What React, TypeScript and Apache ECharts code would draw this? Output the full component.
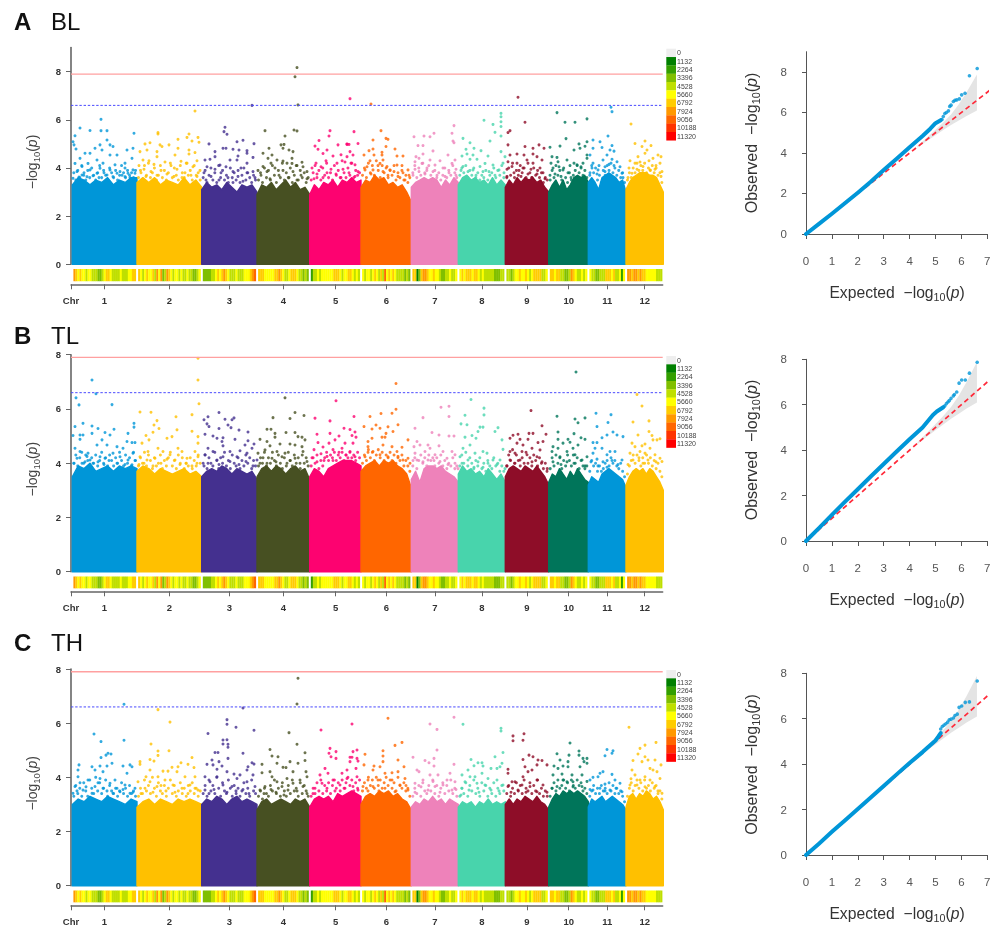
import React, { useEffect, useRef } from "react";
import * as echarts from "echarts";

const FONT = "'Liberation Sans', Arial, sans-serif";

const chrNames = ["1","2","3","4","5","6","7","8","9","10","11","12"];
const chrColors = ["#0096D8","#FFC000","#44308F","#475022","#FD0270","#FF6600","#EE82BA","#48D4AC","#8E0D28","#00755A","#0096D8","#FFC000"];
const chrBounds = [1.3,66,130.7,186,238.7,290,340.3,387.3,434.3,477.7,517.3,555,592.3];
const chrTicks = [33.3,98.3,158.3,212.3,264.7,315.3,364,411,456,497.7,536.3,573.7];

const legendLabels = ["0","1132","2264","3396","4528","5660","6792","7924","9056","10188","11320"];
const legendColors = ["#EEEEEE","#008000","#339F00","#80BF00","#BFDF00","#FFFF00","#FFCC00","#FF9900","#FF6600","#FF3300","#FF0000"];

const stripLevels = [
  [7,6,5,6,5,5,4,5,5,4,4,4,3,3,4,5,6,6,5,4,4,4,4,5,4,4,4,5,5,6,6],
  [6,5,4,5,6,5,5,6,4,7,5,7,3,4,7,6,5,4,5,5,4,5,4,4,5,4,4,3,3,4,5],
  [3,3,3,3,4,4,5,6,5,6,7,6,5,4,4,4,5,4,4,4,5,5,5,6,7,8],
  [6,6,6,5,5,5,5,5,6,6,7,6,5,4,4,5,6,6,6,5,4,4,3,4,3],
  [2,4,4,5,4,5,5,5,5,5,5,6,6,6,5,4,5,5,6,6,5,4,5,4],
  [5,4,5,5,4,5,6,5,4,6,4,8,5,6,5,6,5,4,4,4,4,3,4,3],
  [6,6,1,3,6,7,7,6,5,5,6,5,5,4,3,3,4,4,5,4,4,5],
  [5,6,5,6,6,6,5,6,6,5,4,5,4,4,4,4,4,3,3,3,4,4],
  [4,4,3,4,5,5,6,5,5,6,5,4,5,6,6,6,6,4,4,5],
  [6,6,5,6,6,4,4,3,3,4,7,6,5,4,4,5,4,5],
  [5,4,4,3,3,4,4,4,6,6,6,5,6,4,4,5,2,5],
  [7,7,6,7,7,6,7,6,6,5,5,5,5,5,4,4,4],
];

const massBL = [
  [3.3,3.6,3.5,3.3,3.5,3.4,3.6,3.3,3.5,3.4,3.6,3.6],
  [3.4,3.6,3.4,3.6,3.3,3.5,3.4,3.3,3.6,3.3,3.5,3.2],
  [3.1,3.4,3.2,3.3,3.1,3.4,3.2,3.0,3.3,3.2,3.3,3.0],
  [2.9,3.3,3.2,3.4,3.1,3.3,3.5,3.2,3.4,3.1,3.2,2.9],
  [2.9,3.3,3.1,3.4,3.3,3.5,3.2,3.5,3.4,3.6,3.4,3.5],
  [3.2,3.5,3.4,3.7,3.5,3.6,3.3,3.4,3.2,3.3,3.0,2.6],
  [3.2,3.4,3.5,3.6,3.5,3.6,3.5,3.2,3.5,3.3,3.6,3.4],
  [3.3,3.6,3.7,3.5,3.6,3.4,3.5,3.3,3.6,3.3,3.5,3.3],
  [3.2,3.5,3.3,3.6,3.4,3.6,3.5,3.6,3.4,3.5,3.2,3.0],
  [3.0,3.3,3.5,3.2,3.5,3.1,3.3,3.6,3.7,3.6,3.7,3.4],
  [3.4,3.6,3.4,3.1,3.6,3.7,3.8,3.7,3.6,3.4,3.5,3.0],
  [3.1,3.4,3.6,3.7,3.8,3.8,3.8,3.7,3.7,3.6,3.3,3.0],
];
const massTL = [
  [3.5,3.9,3.8,4.0,3.7,3.8,3.9,3.7,3.9,3.8,3.9,3.8],
  [3.7,3.9,3.8,3.6,3.8,3.7,3.6,3.7,3.8,3.6,3.7,3.5],
  [3.5,3.7,3.8,3.7,3.9,3.8,3.6,3.8,3.7,3.6,3.7,3.4],
  [3.5,3.8,3.9,3.7,3.9,3.8,3.6,3.8,3.9,3.7,3.8,3.4],
  [3.5,3.8,3.7,3.5,3.8,3.9,4.0,4.1,4.1,4.1,4.0,3.9],
  [3.7,3.9,4.0,4.1,3.9,4.1,4.0,4.1,3.9,3.8,3.6,3.1],
  [3.4,3.7,3.3,3.8,3.9,3.9,3.8,3.9,3.7,3.6,3.5,3.3],
  [3.6,3.9,3.7,3.8,3.6,3.7,3.5,3.8,3.6,3.4,3.6,3.3],
  [3.5,3.8,3.9,3.8,3.7,3.9,3.8,3.7,3.9,3.7,3.5,3.2],
  [3.3,3.6,3.5,3.8,3.6,3.4,3.7,3.5,3.8,3.6,3.4,3.3],
  [3.2,3.5,3.4,3.3,3.6,3.7,3.8,3.7,3.6,3.5,3.4,3.1],
  [3.2,3.5,3.7,3.8,3.7,3.8,3.6,3.8,3.7,3.5,3.3,3.0],
];
const massTH = [
  [3.0,3.2,3.1,3.3,3.2,3.1,3.3,3.2,3.1,3.0,3.2,3.1],
  [2.9,3.1,3.2,3.0,3.2,3.1,3.0,3.2,3.1,3.2,3.1,3.0],
  [3.0,3.2,3.1,3.3,3.2,3.0,3.2,3.3,3.1,3.2,3.1,3.0],
  [2.8,3.1,3.2,3.0,3.1,3.2,3.1,3.0,3.2,3.1,3.2,2.9],
  [2.9,3.2,3.3,3.2,3.3,3.1,3.4,3.3,3.4,3.5,3.4,3.3],
  [3.0,3.3,3.4,3.3,3.5,3.4,3.5,3.3,3.4,3.2,3.1,2.8],
  [2.9,3.1,3.0,3.2,3.1,3.3,3.1,3.2,3.0,3.2,3.1,3.0],
  [2.9,3.1,3.0,3.1,2.9,3.1,3.0,3.2,3.0,3.1,3.0,3.1],
  [3.0,3.2,3.0,3.2,3.1,3.3,3.2,3.1,3.3,3.1,3.0,2.8],
  [2.9,3.2,3.4,3.3,3.5,3.4,3.5,3.4,3.5,3.4,3.3,3.1],
  [2.9,3.2,3.1,3.2,3.3,3.1,3.2,3.3,3.2,3.1,3.0,2.8],
  [2.9,3.3,3.4,3.2,3.4,3.3,3.5,3.4,3.2,3.3,3.1,2.8],
];

// heights of the crowded band of points just above the solid mass, read left to right along each chromosome
const bandBL = [
  [3.8,3.5,3.9,3.6,4.1,3.7,3.5,3.9,3.6,4.0,3.7,3.5,3.8,4.1,3.6,3.9,3.7,3.5,4.0,3.8,3.6,3.9,3.5,3.7,4.1,3.8,3.6,3.9,3.7,3.8,3.6,3.9],
  [3.6,3.9,3.5,4.1,3.7,4.2,3.6,3.8,4.0,3.5,3.7,4.1,3.6,3.9,3.5,3.8,4.2,3.6,4.0,3.7,3.5,4.1,3.8,3.6,4.2,3.7,3.9,3.5,4.1,3.7,3.8,3.5],
  [3.6,3.9,3.4,3.7,4.0,3.5,3.8,3.4,4.1,3.6,3.9,3.5,3.7,3.4,4.0,3.6,3.8,3.5,3.9,3.4,3.7,4.0,3.5,3.8,3.6,3.4,3.7,3.5],
  [3.5,3.8,3.4,4.0,3.6,3.9,3.5,4.1,3.7,3.4,3.9,3.6,4.2,3.5,3.8,3.6,4.0,3.4,3.7,4.1,3.5,3.9,3.6,3.8,3.4,3.6],
  [3.5,3.8,4.1,3.6,3.9,3.5,4.0,3.7,4.2,3.6,3.8,3.5,4.1,3.7,3.9,3.6,4.3,3.8,3.6,4.0,3.7,4.2,3.6,3.9,3.7,3.8],
  [3.7,4.0,3.6,4.2,3.8,4.1,3.7,4.3,3.9,3.6,4.1,3.8,4.0,3.6,3.9,3.7,4.1,3.5,3.8,3.6,3.9,3.5,3.7,3.4,3.6],
  [3.8,4.1,3.6,4.0,3.7,4.2,3.8,3.9,4.1,3.7,3.5,3.9,3.6,3.8,3.5,3.7,4.0,3.6,3.9,3.7,4.1,3.8,3.6],
  [3.7,4.0,3.8,4.1,3.6,3.9,3.7,4.0,3.6,3.8,3.5,3.7,3.6,3.9,3.5,3.7,3.8,4.0,3.6,3.9,3.7,4.1,3.6],
  [3.6,4.0,3.7,4.2,3.6,3.9,3.7,4.1,3.8,4.0,3.6,4.2,3.8,3.6,4.0,3.7,3.9,3.6,3.8,3.4,3.6,3.5],
  [3.5,3.9,3.6,4.1,3.7,3.9,3.5,4.0,3.6,3.4,3.8,3.5,3.7,3.9,4.1,3.8,4.0,3.7,3.9,3.6],
  [3.7,4.1,3.8,4.0,3.5,3.7,3.4,3.9,3.7,4.1,3.9,4.2,3.8,4.0,3.7,3.9,3.6,3.8,3.4],
  [3.5,3.8,3.6,4.0,3.8,4.2,3.9,4.1,3.9,4.2,3.8,4.0,3.9,4.1,3.8,4.0,3.7,3.8,3.4],
];
const bandTL = [
  [4.0,4.3,3.9,4.2,4.4,4.0,4.3,4.1,3.9,4.2,4.0,4.3,3.9,4.1,4.4,4.0,4.2,3.9,4.3,4.1,3.9,4.2,4.0,4.4,4.1,3.9,4.3,4.0,4.2,3.9,4.4,4.1],
  [3.9,4.2,4.0,4.4,3.9,4.3,4.1,3.8,4.2,3.9,4.0,4.3,3.8,4.1,3.9,4.2,4.4,3.9,4.1,3.8,4.3,4.0,4.2,3.8,4.0,3.9,4.2,3.8,4.1,3.9,4.3,4.0],
  [4.0,4.3,3.8,4.2,4.0,3.9,4.4,4.1,3.8,4.2,4.0,4.4,3.9,4.1,3.8,4.3,4.0,3.9,4.2,3.8,4.1,3.9,4.3,4.0,4.2,3.8,4.1,3.9],
  [3.9,4.2,4.0,4.4,3.9,4.2,4.0,4.4,4.1,3.9,4.3,4.0,3.8,4.2,3.9,4.4,4.1,3.9,4.3,4.0,4.2,3.8,4.3,4.0,4.2,3.9],
  [3.9,4.2,4.0,4.3,3.8,4.1,3.9,4.2,4.4,4.1,4.3,4.2,4.4,4.1,4.3,4.2,4.4,4.1,4.3,4.2,4.4,4.2,4.3,4.1,4.4,4.2],
  [4.0,4.3,4.1,4.5,4.2,4.4,4.1,4.3,4.5,4.2,4.4,4.1,4.3,4.2,4.4,4.1,4.3,4.0,4.2,4.1,4.3,3.9,4.1,3.9,3.7],
  [3.9,4.2,3.8,4.1,4.3,4.0,4.2,3.9,4.3,4.1,4.2,3.9,4.2,4.0,4.3,3.9,4.1,3.8,4.0,3.9,4.2,3.8,3.9],
  [3.9,4.3,4.0,4.4,3.9,4.2,4.0,3.8,4.1,3.9,4.2,3.8,4.0,3.7,4.1,3.9,3.8,4.2,3.9,4.0,3.7,3.9,3.7],
  [3.9,4.3,4.1,4.5,4.0,4.3,4.1,3.9,4.2,4.0,4.4,4.0,4.2,3.9,4.3,4.1,3.9,4.2,4.0,3.8,4.0,3.8],
  [3.8,4.2,3.9,4.3,4.0,4.2,3.8,4.1,3.9,4.3,4.1,3.9,4.3,4.0,4.2,3.8,4.1,3.9,3.8,3.9],
  [3.7,4.1,3.9,4.0,3.7,3.9,3.7,3.8,4.0,4.1,3.9,4.2,4.0,4.1,3.9,3.8,4.0,3.7,3.5],
  [3.6,3.9,4.1,4.3,4.0,4.3,4.1,3.9,4.2,4.0,4.3,4.0,4.2,3.9,4.1,3.8,4.0,3.7,3.5],
];
const bandTH = [
  [3.3,3.7,3.4,3.6,3.3,3.8,3.5,3.3,3.9,3.6,3.4,4.0,3.5,3.8,3.4,3.6,3.9,3.3,3.7,3.5,3.4,3.6,3.3,3.5,3.8,3.4,3.6,3.3,3.7,3.4,3.5,3.3],
  [3.3,3.6,3.4,3.9,3.5,3.7,3.4,4.0,3.6,3.3,3.8,3.5,3.4,3.7,3.3,3.6,3.9,3.4,3.7,3.3,3.5,3.8,3.4,3.6,3.3,3.7,3.5,3.8,3.4,3.6,3.3,3.5],
  [3.4,3.7,3.3,3.9,3.5,3.7,3.4,4.0,3.6,3.3,3.8,3.5,3.4,3.9,3.6,3.3,3.7,3.4,3.6,3.3,3.5,3.8,3.4,3.6,3.3,3.9,3.5,3.4],
  [3.3,3.5,3.2,3.6,3.4,3.3,3.7,3.5,3.9,3.4,3.6,3.3,3.8,3.5,3.3,3.7,3.4,3.9,3.5,3.6,3.3,3.8,3.4,3.7,3.5,3.3],
  [3.3,3.6,3.4,3.8,3.5,3.9,3.4,3.7,3.5,3.8,3.4,3.7,3.9,3.6,3.8,3.5,3.9,3.6,3.8,4.0,3.7,3.9,3.5,3.8,3.6,3.9],
  [3.5,3.8,3.6,4.0,3.7,3.9,3.6,4.0,3.7,3.9,3.6,3.8,4.0,3.7,3.9,3.6,3.8,3.5,4.0,3.7,3.6,3.8,3.5,3.6,3.3],
  [3.3,3.6,3.4,3.7,3.3,3.8,3.5,3.4,3.7,3.5,3.9,3.4,3.7,3.3,3.6,3.8,3.4,3.7,3.5,3.9,3.4,3.6,3.3],
  [3.3,3.6,3.4,3.8,3.3,3.7,3.5,3.9,3.4,3.6,3.3,3.8,3.5,3.7,3.3,3.6,3.4,3.8,3.3,3.6,3.4,3.7,3.5],
  [3.4,3.7,3.3,3.6,3.4,3.8,3.5,3.7,3.4,3.9,3.6,3.5,3.8,3.4,3.7,3.5,3.9,3.4,3.6,3.3,3.5,3.3],
  [3.3,3.6,3.8,3.5,3.9,3.6,3.7,3.9,3.6,3.8,3.5,3.9,3.7,3.6,3.9,3.7,3.8,3.5,3.6,3.4],
  [3.3,3.5,3.7,3.4,3.6,3.4,3.7,3.5,3.6,3.4,3.8,3.5,3.7,3.4,3.6,3.4,3.5,3.3,3.1],
  [3.3,3.6,3.8,3.5,3.7,3.9,3.6,3.8,3.5,3.9,3.6,3.7,3.5,3.8,3.6,3.7,3.4,3.5,3.2],
];

const dotsBL = [
  [[2,5.09],[4,5.34],[9,5.66],[3,4.96],[5,4.79],[19,5.56],[30,6.02],[30,5.55],[36,5.55],[36,5.16],[39,4.96],[42,4.89],[63,5.44],[24,4.82],[29,4.96],[31,4.75],[19,4.61],[14,4.61],[9,4.4],[4,4.19],[56,4.75],[62,4.82],[39,4.54],[46,4.54],[54,4.2],[61,4.4],[26,4.33],[32,4.2],[17,4.19],[44,4.13],[11,4.06],[54,4],[6,3.85],[19,3.92],[29,3.99],[39,3.92],[49,3.85],[62,3.92],[57,3.78],[26,3.78],[46,3.78],[11,3.71],[36,3.71],[2,3.57],[16,3.64],[42,3.64],[54,3.64],[64,3.78],[22,3.68],[33,3.8],[51,3.7],[59,3.6],[8,3.62],[13,3.8],[28,3.6]],
  [[124,6.37],[87,5.47],[87,5.41],[118,5.41],[127,5.27],[107,5.19],[116,5.27],[121,5.12],[128,5.07],[79,5.05],[74,5],[69,4.68],[89,4.96],[98,4.96],[91,4.89],[107,4.82],[118,4.75],[86,4.68],[76,4.75],[104,4.54],[124,4.64],[118,4.58],[86,4.47],[72,4.33],[78,4.3],[94,4.25],[110,4.28],[126,4.3],[116,4.2],[68,4.1],[83,4.15],[100,4.1],[122,4.05],[73,3.95],[90,3.9],[106,3.95],[129,3.9],[70,3.8],[80,3.85],[96,3.75],[114,3.8],[120,3.7],[86,3.7],[103,3.65],[75,3.65],[126,3.65],[111,3.6]],
  [[154,5.69],[153,5.51],[156,5.4],[138,5],[166,5.09],[172,5.15],[183,5.01],[181,6.6],[152,4.82],[155,4.82],[162,4.78],[144,4.68],[168,4.75],[176,4.72],[176,4.61],[182,4.44],[167,4.5],[134,4.33],[139,4.36],[144,4.47],[159,4.33],[166,4.33],[176,4.2],[149,4.12],[136,4.05],[155,4.05],[170,4],[182,3.85],[144,3.95],[162,3.85],[133,3.8],[150,3.8],[176,3.8],[140,3.65],[157,3.6],[167,3.65],[184,3.6],[148,3.5],[135,3.5],[172,3.45],[162,3.4]],
  [[226,8.17],[224,7.79],[227,6.62],[223,5.58],[226,5.54],[194,5.55],[214,5.33],[210,4.96],[213,4.98],[212,4.82],[198,4.82],[218,4.75],[222,4.68],[192,4.61],[201,4.54],[206,4.33],[212,4.29],[221,4.4],[221,4.19],[231,4.24],[197,4.4],[192,4.06],[200,4.2],[216,4.2],[226,4.1],[236,3.85],[187,3.9],[204,4],[232,4.05],[196,3.85],[212,3.9],[222,3.85],[190,3.7],[208,3.7],[230,3.7],[218,3.6],[199,3.55],[236,3.55],[226,3.5]],
  [[259,5.55],[258,5.33],[248,5.14],[244,4.91],[247,4.78],[256,4.75],[267,4.96],[276,5],[279,6.88],[283,5.51],[287,5.02],[276,4.98],[278,4.98],[279,4.68],[282,4.54],[276,4.47],[284,4.13],[252,4.6],[262,4.5],[270,4.55],[245,4.2],[255,4.3],[266,4.2],[274,4.25],[241,4],[250,4.05],[260,3.95],[272,3.95],[280,4.2],[287,3.85],[246,3.75],[256,3.8],[265,3.75],[278,3.8],[243,3.55],[252,3.6],[270,3.6],[284,3.65]],
  [[300,6.66],[310,5.55],[302,5.16],[315,5.23],[317,5.19],[315,4.89],[298,4.72],[302,4.79],[311,4.65],[324,4.79],[293,4.54],[303,4.54],[311,4.54],[326,4.5],[332,4.5],[299,4.3],[312,4.33],[326,4.12],[331,4.1],[337,3.92],[309,4.19],[316,4.06],[294,3.92],[302,3.92],[319,3.92],[307,4.1],[296,4.05],[323,3.85],[332,3.8],[338,3.7],[312,3.85],[300,3.75],[327,3.65],[317,3.7],[334,3.5]],
  [[383,5.76],[381,5.44],[382,5.12],[383,5.05],[363,5.44],[353,5.33],[359,5.3],[343,5.3],[347,4.93],[352,4.93],[362,4.71],[345,4.47],[348,4.4],[352,4.58],[377,4.54],[384,4.33],[381,4.19],[344,4.26],[369,4.3],[359,4.33],[364,4.12],[351,4.19],[344,3.95],[385,3.95],[356,4],[372,4],[348,3.85],[362,3.85],[378,3.8],[366,3.7],[342,3.7],[385,3.7],[354,3.75],[374,3.65]],
  [[430,6.27],[430,6.13],[430,5.92],[430,5.72],[413,5.98],[422,5.81],[424,5.48],[430,5.33],[392,5.23],[399,5.05],[419,5.12],[403,4.82],[395,4.78],[410,4.72],[396,4.58],[391,4.5],[402,4.54],[417,4.5],[430,4.68],[434,4.47],[399,4.36],[406,4.36],[414,4.19],[432,4.2],[392,4.06],[409,4.06],[422,4.12],[402,3.92],[418,3.85],[428,3.92],[390,3.9],[412,3.85],[397,3.85],[433,3.8],[424,3.7],[405,3.7]],
  [[447,6.94],[454,5.9],[439,5.55],[437,5.47],[437,4.96],[454,4.89],[468,4.96],[473,4.82],[462,4.82],[446,4.58],[453,4.54],[462,4.58],[439,4.54],[466,4.47],[471,4.33],[437,4.26],[456,4.33],[446,4.2],[462,4.2],[441,4.06],[452,4],[469,4],[460,3.95],[436,3.95],[448,3.9],[472,3.8],[443,3.8],[457,3.75],[466,3.75],[436,3.65],[450,3.65],[474,3.55],[461,3.6]],
  [[486,6.3],[494,5.9],[504,5.9],[516,6.04],[495,5.22],[516,5.09],[508,5],[509,4.82],[503,4.75],[489,4.91],[479,4.86],[486,4.44],[481,4.47],[496,4.33],[487,4.26],[512,4.2],[506,4.13],[482,4],[492,3.92],[516,4.54],[514,4.9],[503,4.2],[480,4.2],[516,4.4],[488,4.05],[499,4.1],[510,4.05],[484,3.75],[497,3.8],[479,3.7],[490,3.65],[500,3.6]],
  [[540,6.52],[541,6.34],[537,5.33],[522,5.16],[529,5.09],[531,4.85],[541,4.93],[522,4.82],[539,4.75],[543,4.7],[519,4.54],[536,4.54],[532,4.33],[546,4.26],[522,4.2],[541,4.36],[527,3.92],[551,3.78],[538,4.15],[549,4.05],[521,4],[534,4.05],[528,4.1],[543,4.1],[519,3.8],[526,3.75],[552,3.6],[534,3.85]],
  [[560,5.83],[574,5.12],[564,5.02],[580,4.93],[571,4.89],[576,4.75],[587,4.54],[590,4.47],[559,4.3],[567,4.47],[574,4.61],[582,4.4],[564,4.2],[589,4.2],[572,4.06],[579,3.92],[591,3.85],[561,3.78],[585,4.1],[569,4.25],[578,4.3],[558,4],[584,3.95],[590,3.65],[566,3.95],[557,3.6]],
];

const dotsTL = [
  [[21,7.07],[25,6.56],[5,6.41],[8,6.15],[41,6.16],[4,5.35],[12,5.47],[21,5.37],[27,5.28],[63,5.47],[63,5.33],[43,5.25],[34,5.13],[2,5.02],[9,5.04],[12,5.04],[21,5.1],[39,5.04],[57,5.1],[9,4.88],[31,4.86],[56,4.8],[4,4.55],[61,4.76],[64,4.76],[26,4.67],[36,4.67],[46,4.61],[52,4.55],[9,4.43],[17,4.37],[42,4.37],[62,4.37],[6,4.18],[29,4.24],[34,4.18],[49,4.24],[57,4.12],[11,4],[22,4],[46,4],[61,3.94],[19,4.12],[16,4.25],[54,3.95],[38,4.1],[27,4.05],[3,4],[64,4.1],[33,3.95],[14,4.05]],
  [[127,7.87],[127,7.07],[128,6.19],[69,5.89],[80,5.88],[121,5.79],[105,5.71],[86,5.57],[83,5.41],[88,5.28],[106,5.23],[121,5.18],[75,5.02],[82,5.14],[127,4.98],[96,4.92],[101,4.98],[78,4.86],[71,4.74],[127,4.74],[87,4.55],[107,4.55],[92,4.43],[124,4.43],[77,4.43],[69,4.24],[99,4.31],[111,4.43],[116,4.18],[84,4.18],[127,4.24],[76,4.12],[104,4.12],[73,4],[90,4],[115,4],[126,4],[96,4.15],[68,3.95],[109,3.95],[82,3.9],[121,3.9]],
  [[148,5.87],[137,5.71],[154,5.62],[133,5.6],[163,5.67],[161,5.6],[136,5.45],[157,5.41],[160,5.31],[138,5.35],[148,5.28],[168,5.22],[177,5.15],[134,5.07],[142,5],[146,4.92],[152,4.94],[164,4.88],[177,4.83],[151,4.8],[174,4.67],[183,4.71],[152,4.64],[169,4.46],[137,4.55],[181,4.55],[159,4.43],[142,4.43],[134,4.31],[176,4.37],[152,4.24],[166,4.24],[146,4.12],[186,4.12],[159,4.06],[137,4],[175,4.06],[148,3.95],[168,3.95],[182,3.9],[133,3.9]],
  [[214,6.41],[224,5.87],[233,5.76],[202,5.68],[219,5.65],[196,5.25],[200,5.25],[204,5.1],[215,5.13],[224,5.13],[227,4.98],[231,4.96],[189,4.88],[196,4.8],[204,4.96],[234,4.86],[209,4.71],[219,4.71],[224,4.67],[231,4.61],[199,4.64],[194,4.49],[206,4.43],[214,4.37],[187,4.37],[232,4.43],[211,4.24],[224,4.18],[201,4.18],[236,4.06],[189,4],[216,4],[196,4],[229,4],[205,4.05],[219,4.1],[192,4.2]],
  [[265,6.3],[244,5.66],[259,5.56],[273,5.29],[246,5.07],[259,5.1],[268,5],[264,4.86],[247,4.76],[258,4.74],[283,5.72],[279,5.24],[284,5.15],[281,5.02],[285,4.96],[282,4.74],[274,4.74],[271,4.55],[279,4.43],[284,4.24],[252,4.6],[243,4.5],[262,4.5],[250,4.35],[268,4.4],[256,4.25],[241,4.2],[275,4.3],[246,4.05],[262,4.1],[253,4.1]],
  [[325,6.94],[325,5.99],[321,5.84],[310,5.83],[299,5.72],[327,5.42],[317,5.34],[293,5.35],[305,5.41],[301,5.26],[309,5.29],[322,5.17],[315,5.1],[311,4.96],[314,4.96],[301,4.92],[337,4.86],[297,4.8],[297,4.61],[312,4.67],[321,4.61],[331,4.59],[302,4.43],[326,4.43],[294,4.24],[309,4.31],[337,4.18],[317,4.24],[332,4.12],[297,4.4],[327,4.25],[339,4]],
  [[370,6.06],[378,6.1],[378,5.72],[352,5.68],[344,5.29],[361,5.13],[368,5.04],[378,5],[383,5],[357,4.67],[368,4.64],[346,4.8],[343,4.61],[349,4.67],[359,4.55],[354,4.43],[372,4.43],[381,4.43],[384,4.31],[364,4.31],[344,4.37],[376,4.18],[357,4.12],[369,4.06],[384,4],[346,4.12],[352,4.05],[363,4.1],[377,3.95],[342,4.1],[387,3.8]],
  [[400,6.35],[413,6.03],[394,5.77],[413,5.78],[390,5.45],[396,5.42],[409,5.33],[412,5.33],[427,5.31],[424,5.17],[407,5.17],[401,5.02],[394,4.96],[405,4.92],[431,4.86],[399,4.67],[392,4.55],[412,4.43],[432,4.51],[404,4.37],[416,4.37],[389,4.24],[422,4.12],[397,4.12],[429,4.12],[407,4.05],[391,4],[417,4],[403,3.85],[426,3.95],[412,3.85],[434,3.8]],
  [[460,5.94],[471,5.38],[447,5.07],[442,5.03],[458,5.1],[462,5.1],[475,5.07],[439,4.92],[449,4.88],[457,4.88],[452,4.67],[446,4.74],[467,4.76],[472,4.8],[461,4.55],[439,4.43],[469,4.49],[451,4.43],[444,4.37],[456,4.31],[466,4.24],[439,4.12],[449,4.12],[471,4.05],[461,4.05],[444,4],[436,3.9],[476,3.7]],
  [[505,7.36],[486,5.73],[514,5.67],[504,5.63],[507,5.49],[487,5.15],[503,5.09],[510,4.94],[514,4.88],[487,4.88],[497,4.88],[499,4.77],[492,4.74],[482,4.61],[507,4.67],[502,4.55],[487,4.55],[496,4.43],[516,4.24],[504,4.31],[481,4.43],[489,4.24],[511,4.12],[496,4.05],[482,4.05],[503,4],[490,3.95],[514,3.9]],
  [[525,5.84],[540,5.79],[537,5.5],[526,5.35],[542,5.15],[546,5.04],[536,5.04],[531,4.94],[552,4.98],[522,4.76],[526,4.76],[531,4.55],[524,4.55],[522,4.37],[539,4.43],[544,4.43],[526,4.15],[536,4.31],[551,4.12],[532,4.05],[520,4.05],[541,4.1],[547,3.95],[527,3.9],[536,3.85]],
  [[566,6.53],[571,6.11],[578,5.56],[562,5.52],[578,5.17],[567,5.04],[581,5.02],[589,4.9],[586,4.86],[582,4.86],[561,4.74],[574,4.71],[571,4.64],[564,4.61],[579,4.55],[591,4.06],[559,4.37],[569,4.43],[584,4.31],[574,4.37],[589,4.18],[562,4.12],[577,4.12],[568,4.2],[585,4.05],[557,3.95],[572,4]],
];

const dotsTH = [
  [[53,6.7],[23,5.6],[30,5.32],[53,5.37],[40,4.86],[37,4.89],[35,4.82],[30,4.73],[41,4.52],[8,4.46],[59,4.46],[52,4.42],[61,4.39],[29,4.42],[21,4.39],[36,4.42],[7,4.27],[24,4.27],[32,4.21],[56,4.15],[7,4.02],[44,3.9],[9,3.8],[17,3.9],[29,3.96],[54,3.72],[4,3.66],[64,3.6],[39,3.78],[24,3.66],[49,3.47],[12,3.53],[32,3.6],[59,3.41],[2,3.41],[21,3.41],[42,3.41],[27,3.8],[15,3.65],[46,3.6],[6,3.5],[36,3.5],[62,3.45],[52,3.55]],
  [[87,6.5],[99,6.04],[80,5.23],[87,4.97],[98,4.98],[87,4.81],[121,4.73],[79,4.66],[69,4.58],[69,4.48],[83,4.6],[110,4.54],[117,4.48],[107,4.39],[123,4.36],[92,4.23],[101,4.37],[79,4.27],[97,4.23],[106,4.21],[75,4.02],[87,4.02],[114,4.02],[67,3.84],[94,3.9],[124,4.02],[79,3.84],[102,3.72],[119,3.72],[74,3.6],[86,3.66],[111,3.6],[127,3.53],[95,3.5],[70,3.4],[82,3.45],[104,3.45],[117,3.4],[124,3.6],[90,3.7]],
  [[172,6.56],[156,6.13],[156,5.96],[165,5.85],[183,5.74],[137,5.62],[156,5.39],[152,5.38],[152,5.23],[157,5.22],[157,5.11],[144,4.92],[147,4.92],[172,4.89],[157,4.7],[141,4.64],[136,4.48],[142,4.46],[148,4.58],[151,4.42],[181,4.54],[183,4.49],[177,4.39],[146,4.3],[176,4.27],[156,4.21],[163,4.12],[134,4.02],[169,4.09],[182,4.09],[146,4.02],[166,3.96],[139,3.84],[176,3.84],[152,3.72],[161,3.66],[134,3.53],[184,3.66],[172,3.55],[143,3.55],[156,3.45],[165,3.5],[138,3.4],[178,3.4]],
  [[227,7.66],[226,6.71],[218,5.65],[226,5.22],[199,5.03],[201,4.79],[207,4.76],[234,4.91],[234,4.62],[191,4.48],[227,4.52],[219,4.58],[206,4.52],[191,4.17],[212,4.37],[215,4.36],[199,4.21],[235,4.21],[222,4.21],[236,4.02],[201,4.02],[216,3.96],[229,3.9],[206,3.84],[222,3.78],[194,3.66],[211,3.66],[232,3.66],[189,3.53],[217,3.53],[200,3.55],[226,3.5],[205,3.45],[236,3.4],[193,3.4],[213,3.35]],
  [[250,5.75],[259,5.07],[265,4.95],[258,4.89],[260,4.76],[265,4.7],[279,4.74],[281,5.97],[286,5.01],[282,4.95],[281,4.74],[286,4.7],[287,4.6],[279,4.58],[285,4.33],[254,4.33],[271,4.15],[249,4.09],[257,4.15],[276,4.27],[286,4.02],[276,3.96],[262,3.9],[244,3.6],[251,3.78],[269,3.72],[282,3.66],[287,3.53],[256,3.6],[242,3.4],[264,3.5],[274,3.6]],
  [[317,6.18],[331,5.29],[324,5.18],[312,4.98],[294,4.85],[312,4.79],[327,4.64],[312,4.58],[293,4.46],[303,4.42],[309,4.39],[333,4.39],[302,4.27],[321,4.17],[327,4.21],[314,4.15],[297,3.9],[307,3.9],[334,3.96],[321,3.9],[292,3.66],[329,3.72],[302,3.66],[314,3.6],[337,3.53],[324,3.47],[297,3.5],[308,3.5],[335,3.7]],
  [[383,6.22],[359,5.97],[366,5.77],[366,5.01],[342,4.74],[363,4.7],[354,4.62],[358,4.54],[363,4.42],[383,4.48],[346,4.27],[348,4.21],[379,4.15],[367,4.09],[359,4.09],[352,3.9],[384,3.84],[344,3.78],[372,3.72],[364,3.66],[357,3.53],[381,3.53],[344,3.45],[369,3.45],[376,3.9],[350,3.65],[385,3.55],[362,3.85]],
  [[392,5.96],[430,5.81],[430,5.71],[432,4.92],[424,4.76],[400,4.66],[407,4.54],[411,4.54],[431,4.52],[403,4.43],[429,4.39],[412,4.42],[420,4.33],[426,4.33],[397,4.27],[391,4.09],[411,4.15],[404,4.02],[399,4.02],[417,3.96],[394,3.84],[406,3.78],[426,3.9],[414,3.72],[391,3.6],[432,3.72],[420,3.53],[398,3.53],[408,3.45],[428,3.5],[390,3.35]],
  [[442,5.53],[453,5.61],[442,5.35],[452,5.37],[458,4.82],[452,4.66],[462,4.76],[467,4.64],[471,4.62],[466,4.46],[476,4.46],[437,4.3],[454,4.39],[461,4.27],[437,4.15],[457,4.21],[452,4.02],[441,3.84],[444,3.84],[466,3.9],[451,3.72],[437,3.66],[459,3.66],[472,3.72],[447,3.53],[466,3.47],[440,3.45],[455,3.45],[476,3.45]],
  [[499,5.27],[486,4.87],[508,4.97],[498,4.82],[508,4.82],[516,4.7],[512,4.7],[513,4.58],[497,4.58],[489,4.64],[516,4.52],[483,4.42],[497,4.39],[509,4.39],[492,4.42],[487,4.33],[491,4.12],[501,4.09],[511,4.09],[482,4.09],[502,3.84],[496,3.84],[486,3.66],[511,3.66],[481,3.6],[502,3.65],[492,3.9],[516,3.85]],
  [[536,5.03],[542,4.98],[534,4.8],[541,4.89],[522,4],[532,4.21],[529,4.15],[541,4.11],[519,3.9],[527,4.02],[534,3.75],[544,3.9],[549,3.78],[522,3.53],[539,3.53],[529,3.6],[551,3.47],[534,3.5],[545,3.6],[519,3.55]],
  [[558,5.85],[585,5.29],[574,5.19],[569,5.07],[567,4.86],[562,4.62],[574,4.76],[571,4.58],[577,4.64],[584,4.64],[590,4.46],[561,4.27],[579,4.33],[582,4.27],[564,4.09],[574,4.02],[586,4.21],[589,3.96],[559,3.72],[569,3.9],[579,3.9],[566,3.72],[584,3.66],[591,3.41],[574,3.65],[560,3.95],[587,3.5]],
];

const qqLineBL = [[0,0],[0.5,0.5],[1,1.0],[1.5,1.52],[2,2.04],[2.5,2.58],[3,3.16],[3.5,3.72],[4,4.28],[4.5,4.84],[4.8,5.2],[5,5.47],[5.2,5.62]];
const qqDotsBL = [[5.25,5.65],[5.3,5.8],[5.36,5.95],[5.42,6.0],[5.5,6.08],[5.55,6.3],[5.6,6.36],[5.69,6.54],[5.75,6.6],[5.82,6.62],[5.92,6.67],[6.01,6.87],[6.14,6.95],[6.31,7.81],[6.61,8.17]];
const qqLineTL = [[0,0],[0.5,0.57],[1,1.15],[1.5,1.72],[2,2.28],[2.5,2.84],[3,3.39],[3.5,3.94],[4,4.48],[4.5,5.0],[4.9,5.55],[5.05,5.7],[5.3,5.89]];
const qqDotsTL = [[5.36,5.95],[5.42,6.05],[5.48,6.12],[5.53,6.18],[5.6,6.28],[5.69,6.39],[5.73,6.45],[5.82,6.56],[5.91,6.95],[6.01,7.09],[6.15,7.09],[6.31,7.39],[6.61,7.87]];
const qqLineTH = [[0,0],[0.5,0.5],[1,1.02],[1.5,1.52],[2,2.02],[2.5,2.53],[3,3.04],[3.5,3.55],[4,4.05],[4.5,4.53],[5,5.04],[5.1,5.2],[5.2,5.37]];
const qqDotsTH = [[5.2,5.55],[5.26,5.66],[5.33,5.72],[5.4,5.78],[5.47,5.85],[5.53,5.95],[5.6,5.98],[5.69,6.03],[5.75,6.14],[5.84,6.2],[5.91,6.5],[6.01,6.56],[6.15,6.72],[6.31,6.74],[6.61,7.66]];

const ciExpected = [4.3,4.6,5,5.3,5.6,5.9,6.2,6.6];
const ciLower = [4.26,4.53,4.88,5.13,5.38,5.6,5.83,6.1];
const ciUpper = [4.34,4.68,5.15,5.5,5.9,6.4,7.0,7.88];

const refLine = [[-0.3,-0.3],[7.3,7.3]];
const yTicksAll = [0,2,4,6,8];
const qqXTicks = [0,1,2,3,4,5,6,7];

const panels = [
  { letter:"A", name:"BL", titleY:21.3, top:47.6, zero:264.3, ymax:9, strip:269, axisY:284.3, legendTop:48.7, mass:massBL, band:bandBL, dots:dotsBL,
    qTop:51.7, qZero:234, qMax:9, qLine:qqLineBL, qDots:qqDotsBL, qYName:143, qXName:292 },
  { letter:"B", name:"TL", titleY:335, top:354.7, zero:571.7, ymax:8, strip:576.5, axisY:591.3, legendTop:356, mass:massTL, band:bandTL, dots:dotsTL,
    qTop:359.3, qZero:541, qMax:8, qLine:qqLineTL, qDots:qqDotsTL, qYName:450, qXName:599.3 },
  { letter:"C", name:"TH", titleY:642.5, top:669, zero:885.7, ymax:8, strip:890.5, axisY:905.3, legendTop:670, mass:massTH, band:bandTH, dots:dotsTH,
    qTop:673.3, qZero:855, qMax:8, qLine:qqLineTH, qDots:qqDotsTH, qYName:764.5, qXName:913.3 },
];

const X_LEFT = 71, X_SPAN = 591.7;
const Q_LEFT = 806, Q_W = 181.3;

function richLabel(prefix: string) {
  const p = prefix ? `{a|${prefix}  }` : "";
  return `${p}{a|−log}{s|10}{a|(}{i|p}{a|)}`;
}
function richStyles(size: number, color: string) {
  const base = { fontFamily: FONT, fontSize: size, fill: color, color };
  return {
    a: { ...base, verticalAlign: "middle", lineHeight: size * 1.3 },
    s: { ...base, fontSize: size * 0.68, verticalAlign: "bottom", lineHeight: size * 1.3 },
    i: { ...base, fontStyle: "italic", verticalAlign: "middle", lineHeight: size * 1.3 },
  };
}

function buildOption() {
  const grid: any[] = [], xAxis: any[] = [], yAxis: any[] = [], series: any[] = [], graphic: any[] = [];
  panels.forEach((p) => {
    const gi = grid.length;
    grid.push({ left: X_LEFT, width: X_SPAN, top: p.top, height: p.zero - p.top });
    xAxis.push({ gridIndex: gi, type: "value", min: 0, max: X_SPAN, show: false });
    yAxis.push({
      gridIndex: gi, type: "value", min: 0, max: p.ymax, splitLine: { show: false },
      axisLine: { show: true, lineStyle: { color: "#666", width: 1.6 } },
      axisTick: { show: true, length: 5, customValues: yTicksAll, lineStyle: { color: "#666", width: 1 } },
      axisLabel: { customValues: yTicksAll, margin: 10, fontFamily: FONT, fontSize: 9.5, fontWeight: "bold", color: "#333" },
    });
    series.push({ type: "line", xAxisIndex: gi, yAxisIndex: gi, data: [[0, 7.9],[X_SPAN, 7.9]], showSymbol: false, silent: true, z: 4,
      lineStyle: { color: "#FFA0A0", width: 1.4 } });
    series.push({ type: "line", xAxisIndex: gi, yAxisIndex: gi, data: [[0, 6.6],[X_SPAN, 6.6]], showSymbol: false, silent: true, z: 4,
      lineStyle: { color: "#4A4AFF", width: 1, type: [2.4, 1.8] } });
    p.mass.forEach((env, c) => {
      const x0 = chrBounds[c], x1 = chrBounds[c + 1];
      const pts = env.map((v, i) => [x0 + (i / (env.length - 1)) * (x1 - x0), v]);
      series.push({
        type: "custom", xAxisIndex: gi, yAxisIndex: gi, silent: true, z: 2, data: pts,
        renderItem: (params: any, api: any) => {
          if (params.dataIndex !== 0) return null;
          const poly = [[x0, 0], ...pts, [x1, 0]].map((q) => api.coord(q));
          return { type: "polygon", shape: { points: poly },
            style: { fill: chrColors[c], stroke: chrColors[c], lineWidth: 1.4, lineJoin: "round" } };
        },
      });
      const band = p.band[c];
      const bandPts = band.map((v, i) => [x0 + 0.5 + ((i + 0.5) / band.length) * (x1 - x0 - 1), v]);
      series.push({ type: "scatter", xAxisIndex: gi, yAxisIndex: gi, silent: true, z: 3, clip: false, symbolSize: 3,
        data: [...bandPts, ...p.dots[c]], itemStyle: { color: chrColors[c] } });
    });

    const si = grid.length;
    grid.push({ left: X_LEFT, width: X_SPAN, top: p.strip, height: p.axisY - p.strip });
    xAxis.push({
      gridIndex: si, type: "value", min: 0, max: X_SPAN, splitLine: { show: false },
      axisLine: { show: true, lineStyle: { color: "#666", width: 1.5 } },
      axisTick: { show: true, length: 5, customValues: [0, ...chrTicks], lineStyle: { color: "#666", width: 1 } },
      axisLabel: { customValues: [0, ...chrTicks], margin: 11, fontFamily: FONT, fontSize: 9.5, fontWeight: "bold", color: "#333", showMinLabel: true, hideOverlap: false,
        formatter: (v: number) => { if (v === 0) return "Chr"; const i = chrTicks.indexOf(v); return i >= 0 ? chrNames[i] : ""; } },
    });
    yAxis.push({ gridIndex: si, type: "value", min: 0, max: 1, show: false });
    const cells: number[][] = [];
    stripLevels.forEach((levels, c) => {
      const x0 = chrBounds[c] + 1.1, x1 = chrBounds[c + 1] - 1.1;
      const w = (x1 - x0) / levels.length;
      levels.forEach((lv, i) => cells.push([x0 + i * w, x0 + (i + 1) * w, lv]));
    });
    series.push({
      type: "custom", xAxisIndex: si, yAxisIndex: si, silent: true, data: cells,
      renderItem: (_: any, api: any) => {
        const a = api.coord([api.value(0), 1]);
        const b = api.coord([api.value(1), 0.2]);
        return { type: "rect", shape: { x: a[0], y: a[1], width: b[0] - a[0] + 0.2, height: b[1] - a[1] },
          style: { fill: legendColors[api.value(2)] } };
      },
    });

    const qi = grid.length;
    grid.push({ left: Q_LEFT, width: Q_W, top: p.qTop, height: p.qZero - p.qTop });
    xAxis.push({
      gridIndex: qi, type: "value", min: 0, max: 7, offset: 7, splitLine: { show: false },
      axisLine: { show: true, lineStyle: { color: "#555", width: 1 } },
      axisTick: { show: true, length: 5, customValues: qqXTicks, lineStyle: { color: "#555" } },
      axisLabel: { customValues: qqXTicks, margin: 13.5, fontFamily: FONT, fontSize: 11.5, color: "#555" },
    });
    yAxis.push({
      gridIndex: qi, type: "value", min: 0, max: p.qMax, offset: 7, splitLine: { show: false },
      axisLine: { show: true, lineStyle: { color: "#555", width: 1 } },
      axisTick: { show: true, length: 4, customValues: yTicksAll, lineStyle: { color: "#555" } },
      axisLabel: { customValues: yTicksAll, margin: 12, fontFamily: FONT, fontSize: 11.5, color: "#555" },
    });
    series.push({
      type: "custom", xAxisIndex: qi, yAxisIndex: qi, silent: true, z: 1, data: ciExpected.map((e) => [e, 0]),
      renderItem: (params: any, api: any) => {
        if (params.dataIndex !== 0) return null;
        const up = ciExpected.map((e, i) => api.coord([e, ciUpper[i]]));
        const lo = ciExpected.map((e, i) => api.coord([e, ciLower[i]])).reverse();
        return { type: "polygon", shape: { points: [...up, ...lo] }, style: { fill: "#E4E4E4" } };
      },
    });
    series.push({ type: "line", xAxisIndex: qi, yAxisIndex: qi, data: refLine, showSymbol: false, silent: true, clip: false, z: 2,
      lineStyle: { color: "#FF2A3A", width: 1.7, type: [5, 3.5] } });
    series.push({ type: "line", xAxisIndex: qi, yAxisIndex: qi, data: p.qLine, showSymbol: false, silent: true, clip: false, z: 3,
      lineStyle: { color: "#0096D8", width: 4, cap: "round", join: "round" } });
    series.push({ type: "scatter", xAxisIndex: qi, yAxisIndex: qi, data: p.qDots, symbolSize: 3.6, silent: true, clip: false, z: 3,
      itemStyle: { color: "#0096D8" } });

    graphic.push({ type: "text", x: 14, y: p.titleY, style: { text: p.letter, font: `bold 24px ${FONT}`, fill: "#111", verticalAlign: "middle" } });
    graphic.push({ type: "text", x: 51, y: p.titleY, style: { text: p.name, font: `24px ${FONT}`, fill: "#111", verticalAlign: "middle" } });
    graphic.push({ type: "text", x: 32, y: (p.top + p.zero) / 2 + 6, rotation: Math.PI / 2,
      style: { text: richLabel(""), rich: richStyles(14, "#444"), align: "center", verticalAlign: "middle" } });
    graphic.push({ type: "text", x: 751, y: p.qYName, rotation: Math.PI / 2,
      style: { text: richLabel("Observed"), rich: richStyles(16, "#333"), align: "center", verticalAlign: "middle" } });
    graphic.push({ type: "text", x: 897, y: p.qXName,
      style: { text: richLabel("Expected"), rich: richStyles(15.7, "#333"), align: "center", verticalAlign: "middle" } });
    const cellH = 8.33;
    legendLabels.forEach((lab, i) => {
      graphic.push({ type: "rect", shape: { x: 666.3, y: p.legendTop + i * cellH, width: 9.7, height: cellH + 0.2 }, style: { fill: legendColors[i] } });
      graphic.push({ type: "text", x: 677, y: p.legendTop + (i + 0.5) * cellH,
        style: { text: lab, font: `7px ${FONT}`, fill: "#444", verticalAlign: "middle" } });
    });
  });
  return { animation: false, backgroundColor: "#fff", textStyle: { fontFamily: FONT }, grid, xAxis, yAxis, series, graphic };
}

export default function App() {
  const ref = useRef<HTMLDivElement>(null);
  useEffect(() => {
    document.body.style.margin = "0";
    const chart = echarts.init(ref.current!, undefined, { renderer: "svg" });
    chart.setOption(buildOption() as any);
    return () => chart.dispose();
  }, []);
  return <div ref={ref} style={{ width: 1004, height: 936, filter: "blur(0.35px)" }} />;
}
